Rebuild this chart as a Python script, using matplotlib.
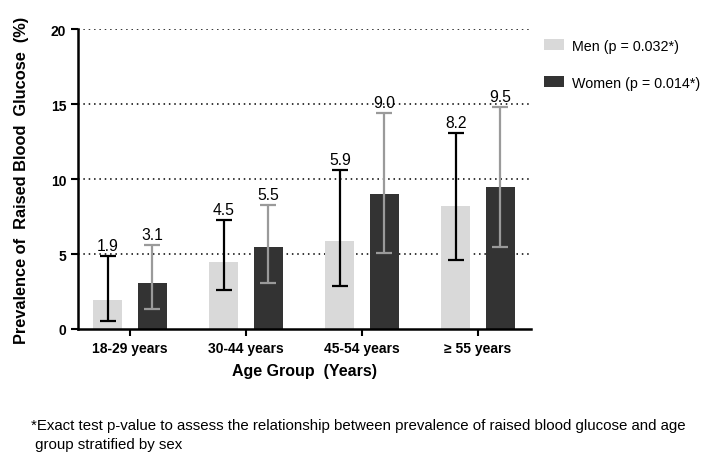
import numpy as np
import matplotlib
matplotlib.use('Agg')
import matplotlib.pyplot as plt

plt.rcParams['font.family'] = ['Liberation Sans', 'DejaVu Sans']

# DATA ------------------------------------------------------------------------
groups = ['18-29 years', '30-44 years', '45-54 years', '\u2265 55 years']
men = [1.9, 4.5, 5.9, 8.2]
men_lo = [0.5, 2.6, 2.9, 4.6]
men_hi = [4.9, 7.3, 10.6, 13.1]
women = [3.1, 5.5, 9.0, 9.5]
women_lo = [1.3, 3.1, 5.1, 5.5]
women_hi = [5.6, 8.3, 14.4, 14.8]
men_label = 'Men (p = 0.032*)'
women_label = 'Women (p = 0.014*)'
footnote = ('*Exact test p-value to assess the relationship between prevalence of raised blood glucose and age\n'
            ' group stratified by sex')
# END DATA --------------------------------------------------------------------

men_col = '#d9d9d9'
women_col = '#333333'
men_err = 'black'
women_err = '#9a9a9a'

fig = plt.figure(figsize=(7.12, 4.64), dpi=100)
ax = fig.add_axes([0.1096, 0.2888, 0.6362, 0.6465])

x = np.arange(len(groups))
off = 0.19
w = 0.25

men = np.array(men); women = np.array(women)
m_err = [men - np.array(men_lo), np.array(men_hi) - men]
w_err = [women - np.array(women_lo), np.array(women_hi) - women]

ax.bar(x - off, men, w, color=men_col, label=men_label, zorder=2)
ax.bar(x + off, women, w, color=women_col, label=women_label, zorder=2)
ax.errorbar(x - off, men, yerr=m_err, fmt='none', ecolor=men_err,
            elinewidth=1.6, capsize=6, capthick=1.6, zorder=3)
ax.errorbar(x + off, women, yerr=w_err, fmt='none', ecolor=women_err,
            elinewidth=1.6, capsize=6, capthick=1.6, zorder=3)

for xi, v, hi in zip(x - off, men, men_hi):
    ax.text(xi, hi + 0.2, '%.1f' % v, ha='center', va='bottom', fontsize=11.3)
for xi, v, hi in zip(x + off, women, women_hi):
    ax.text(xi, hi + 0.2, '%.1f' % v, ha='center', va='bottom', fontsize=11.3)

for yv in [5, 10, 15, 20]:
    ax.axhline(yv, color='black', linestyle=(0, (1, 2.5)), linewidth=1.1, zorder=1)

ax.set_xlim(-0.448, 3.457)
ax.set_ylim(0, 20)
ax.set_yticks([0, 5, 10, 15, 20])
ax.set_xticks(x)
ax.set_xticklabels(groups, fontweight='bold', fontsize=10)
for lab in ax.get_yticklabels():
    lab.set_fontweight('bold')
    lab.set_fontsize(10)
ax.tick_params(axis='both', direction='out', length=5, width=1.5)

for s in ['top', 'right']:
    ax.spines[s].set_visible(False)
for s in ['left', 'bottom']:
    ax.spines[s].set_linewidth(1.8)

ax.set_ylabel('Prevalence of  Raised Blood  Glucose  (%)', fontweight='bold', fontsize=11.8, labelpad=16)
ax.set_xlabel('Age Group  (Years)', fontweight='bold', fontsize=11.5, labelpad=6)

ax.legend(loc='upper left', bbox_to_anchor=(1.0, 1.01), frameon=False,
          fontsize=10.3, handlelength=1.4, handleheight=0.8, labelspacing=1.6,
          handletextpad=0.6)

fig.text(0.043, 0.025, footnote, fontsize=10.8, ha='left', va='bottom', linespacing=1.45)

plt.savefig('out.png', dpi=100)
